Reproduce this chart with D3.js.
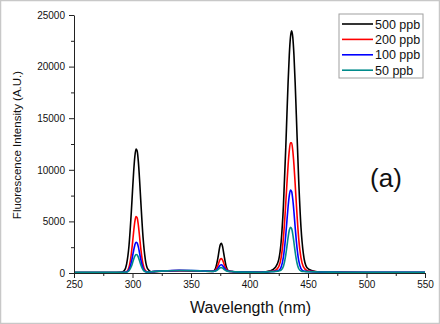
<!DOCTYPE html>
<html>
<head>
<meta charset="utf-8">
<script src="https://cdn.jsdelivr.net/npm/d3@7"></script>
<style>
  body { margin: 0; background: #fff; }
  svg { font-family: "Liberation Sans", Arial, sans-serif; }
</style>
</head>
<body>
<script>
// wavelength grid (nm), denser around the three peaks
const wavelength = [250, 260, 270, 280, 286, 290, 293, 295, 297, 299, 300, 301, 302, 303, 304, 305, 306, 307, 309, 311,
  313, 316, 320, 330, 340, 350, 360, 366, 369, 371, 373, 374, 375, 376, 377, 378, 380, 382, 385, 390,
  400, 410, 418, 422, 425, 427, 429, 431, 432, 433, 434, 435, 436, 437, 438, 439, 440, 442, 444, 446,
  449, 453, 460, 470, 480, 500, 520, 540, 550];

const ppb500 = [50, 50, 50, 50, 50, 60, 250, 890, 2640, 5930, 7930, 9830, 11290, 12010, 11830, 10790, 9110, 7130, 3480, 1280,
  400, 125, 140, 190, 220, 210, 180, 160, 185, 465, 1460, 2175, 2740, 2890, 2550, 1890, 670, 223, 140, 110,
  80, 70, 215, 530, 1300, 2980, 6530, 12150, 15390, 18500, 21100, 22840, 23460, 22840, 21100, 18500, 15390, 9100, 4440, 1900,
  540, 250, 100, 70, 60, 50, 50, 50, 50];

const ppb200 = [50, 50, 50, 50, 50, 50, 60, 140, 565, 1865, 2895, 4030, 4980, 5470, 5345, 4640, 3580, 2460, 850, 230,
  100, 125, 150, 200, 230, 220, 190, 165, 166, 292, 746, 1071, 1325, 1395, 1241, 941, 388, 183, 140, 110,
  80, 70, 160, 250, 610, 1460, 3400, 6780, 8690, 10470, 11850, 12610, 12610, 11850, 10470, 8690, 6780, 3400, 1460, 610,
  250, 160, 100, 75, 65, 55, 55, 55, 55];

const ppb100 = [55, 55, 55, 55, 55, 55, 60, 100, 330, 1030, 1590, 2200, 2720, 2985, 2915, 2535, 1960, 1360, 490, 150,
  90, 120, 160, 220, 250, 240, 200, 170, 158, 224, 460, 629, 761, 797, 717, 561, 274, 167, 140, 110,
  85, 75, 140, 170, 250, 560, 1560, 3680, 5080, 6440, 7500, 8040, 7900, 7130, 5900, 4480, 3140, 1240, 420, 200,
  150, 130, 100, 80, 70, 60, 60, 60, 60];

const ppb50 = [60, 60, 60, 60, 60, 60, 62, 80, 215, 630, 960, 1330, 1630, 1790, 1750, 1520, 1180, 825, 310, 120,
  85, 115, 160, 210, 240, 230, 195, 170, 155, 192, 326, 423, 498, 518, 473, 384, 220, 160, 140, 110,
  85, 75, 130, 150, 200, 280, 650, 1760, 2590, 3450, 4140, 4420, 4300, 3750, 2930, 2060, 1320, 440, 190, 140,
  130, 120, 100, 80, 70, 60, 60, 60, 60];

const seriesNames = ["500 ppb", "200 ppb", "100 ppb", "50 ppb"];
const seriesValues = [ppb500, ppb200, ppb100, ppb50];
const seriesColors = ["#000000", "#ff0000", "#0000ff", "#008b8b"];

const xTicks = [250, 300, 350, 400, 450, 500, 550];
const xMinor = [275, 325, 375, 425, 475, 525];
const yTicks = [0, 5000, 10000, 15000, 20000, 25000];
const yMinor = [2500, 7500, 12500, 17500, 22500];

const W = 440, H = 324;
const margin = {top: 15, right: 15, bottom: 51, left: 74};
const plotW = W - margin.left - margin.right;
const plotH = H - margin.top - margin.bottom;

const svg = d3.select("body").append("svg")
  .attr("width", W)
  .attr("height", H);

// light frame round the whole picture
svg.append("rect")
  .attr("x", 0.5).attr("y", 0.5)
  .attr("width", W - 1).attr("height", H - 1)
  .attr("fill", "none")
  .attr("stroke", "#c8c8c8")
  .attr("stroke-width", 1.5);

const g = svg.append("g")
  .attr("transform", `translate(${margin.left},${margin.top})`);

const x = d3.scaleLinear().domain([250, 550]).range([0, plotW]);
const y = d3.scaleLinear().domain([0, 25000]).range([plotH, 0]);

// lines
const line = d3.line()
  .x((d, i) => x(wavelength[i]))
  .y(d => y(d))
  .curve(d3.curveMonotoneX);

seriesValues.forEach((vals, k) => {
  g.append("path")
    .datum(vals)
    .attr("d", line)
    .attr("fill", "none")
    .attr("stroke", seriesColors[k])
    .attr("stroke-width", 1.6)
    .attr("stroke-linejoin", "round");
});

// axes
g.append("g")
  .attr("transform", `translate(0,${plotH})`)
  .call(d3.axisBottom(x).tickValues(xTicks).tickFormat(d3.format("d"))
    .tickSize(5).tickSizeOuter(0).tickPadding(3));
g.append("g")
  .attr("transform", `translate(0,${plotH})`)
  .call(d3.axisBottom(x).tickValues(xMinor).tickSize(3).tickFormat("").tickSizeOuter(0))
  .select(".domain").remove();

g.append("g")
  .call(d3.axisLeft(y).tickValues(yTicks).tickFormat(d3.format("d"))
    .tickSize(5).tickSizeOuter(0).tickPadding(4));
g.append("g")
  .call(d3.axisLeft(y).tickValues(yMinor).tickSize(3).tickFormat("").tickSizeOuter(0))
  .select(".domain").remove();

g.selectAll(".tick text")
  .style("font-size", "10px")
  .attr("fill", "#111");
g.selectAll(".domain, .tick line").attr("stroke", "#222");

// axis titles
svg.append("text")
  .attr("x", margin.left + plotW / 2 + 1)
  .attr("y", 313)
  .attr("text-anchor", "middle")
  .style("font-size", "16px")
  .attr("fill", "#111")
  .text("Wavelength (nm)");

svg.append("text")
  .attr("transform", `translate(21,${margin.top + plotH / 2 + 1}) rotate(-90)`)
  .attr("text-anchor", "middle")
  .style("font-size", "11.5px")
  .attr("fill", "#111")
  .text("Fluorescence Intensity (A.U.)");

// panel letter
svg.append("text")
  .attr("x", 386)
  .attr("y", 187)
  .attr("text-anchor", "middle")
  .style("font-size", "26px")
  .attr("fill", "#111")
  .text("(a)");

// legend
const legend = svg.append("g").attr("transform", "translate(339,14)");
legend.append("rect")
  .attr("width", 84).attr("height", 64)
  .attr("fill", "#fff")
  .attr("stroke", "#a0a0a0")
  .attr("stroke-width", 1);

seriesNames.forEach((name, k) => {
  const ly = 10 + k * 15.4;
  legend.append("line")
    .attr("x1", 3).attr("x2", 34)
    .attr("y1", ly).attr("y2", ly)
    .attr("stroke", seriesColors[k])
    .attr("stroke-width", 1.6);
  legend.append("text")
    .attr("x", 36)
    .attr("y", ly + 4.5)
    .style("font-size", "12.5px")
    .attr("fill", "#111")
    .text(name);
});
</script>
</body>
</html>
